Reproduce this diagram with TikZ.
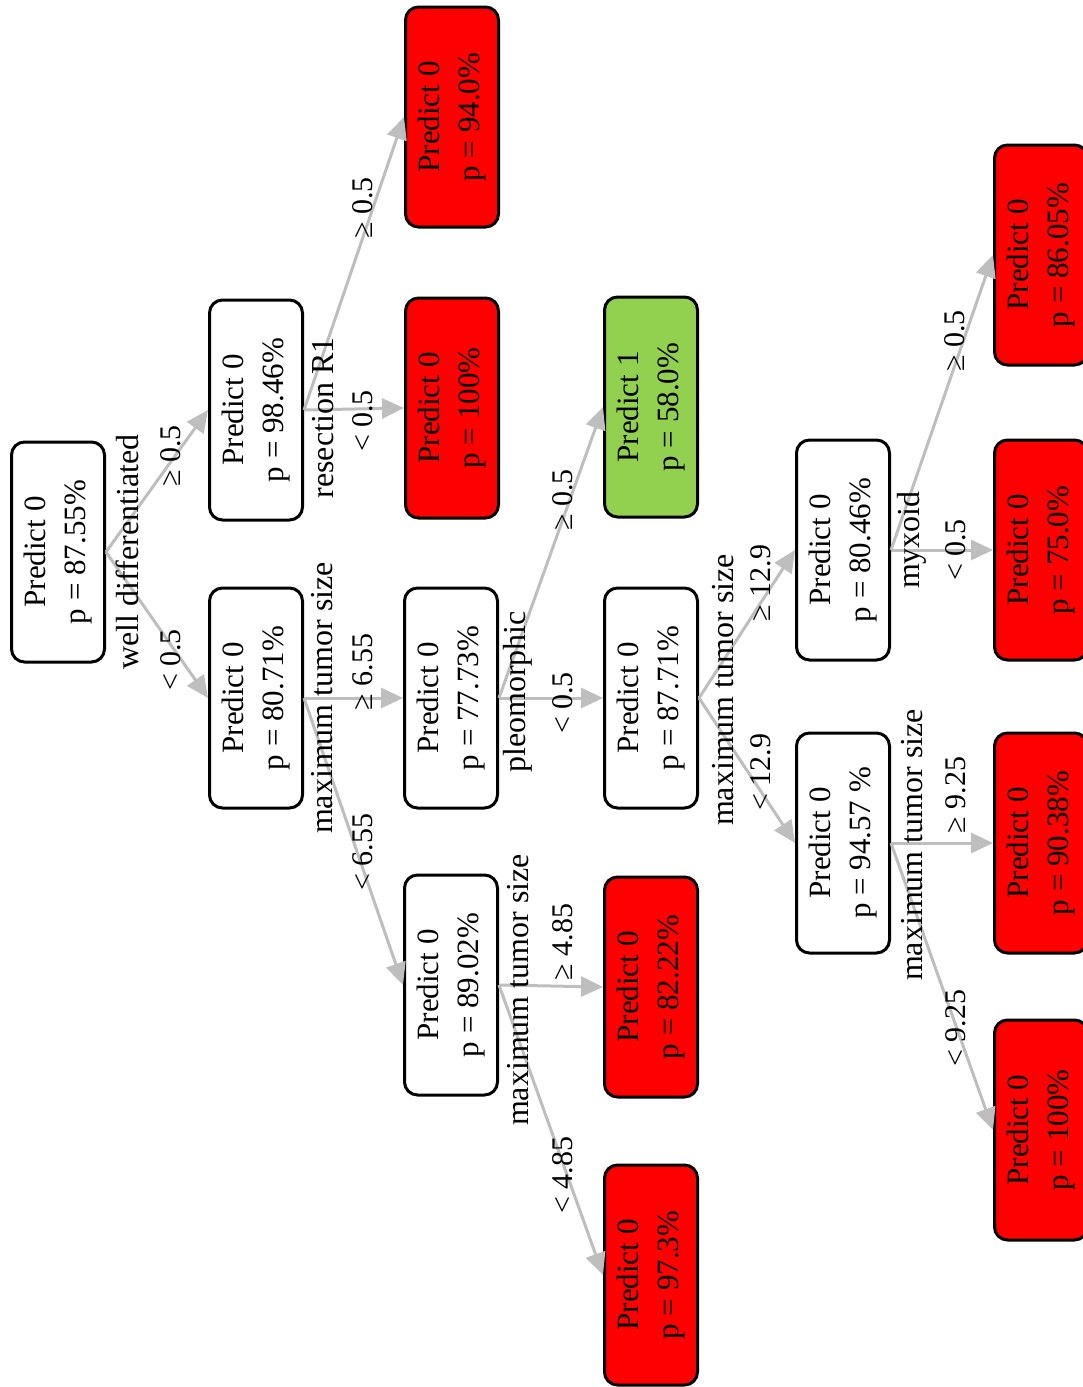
\documentclass[tikz,border=0pt]{standalone}
\usepackage{fontspec}
\setmainfont{Liberation Serif}
\usetikzlibrary{arrows.meta}
\definecolor{leafred}{HTML}{FF0000}
\definecolor{leafgreen}{HTML}{92D050}
\definecolor{edgegray}{HTML}{BEBEBE}
\begin{document}
\begin{tikzpicture}[x=1pt,y=1pt,
  box/.style={draw=black, line width=3pt, rounded corners=13pt, rotate=90,
    minimum width=220pt, minimum height=93pt, align=center, inner sep=0pt,
    font=\fontsize{31}{40}\selectfont},
  leaf/.style={box, fill=leafred},
  goodleaf/.style={box, fill=leafgreen},
  edge/.style={draw=edgegray, line width=3pt, -{Triangle[length=22pt,width=20pt]}},
  splitlbl/.style={rotate=90, inner sep=0pt, font=\fontsize{32}{36}\selectfont},
  edgelbl/.style={rotate=90, inner sep=0pt, font=\fontsize{30}{34}\selectfont}
]
\useasboundingbox (0,0) rectangle (1083,-1387);
\clip (0,0) rectangle (1083,-1387);

% nodes
\node[box] (root) at (58,-552) {Predict 0\\p = 87.55\%};
\node[box] (n1) at (256,-410) {Predict 0\\p = 98.46\%};
\node[box] (n2) at (256,-698) {Predict 0\\p = 80.71\%};
\node[leaf] (l94) at (452,-117) {Predict 0\\p = 94.0\%};
\node[leaf] (l100a) at (452,-408) {Predict 0\\p = 100\%};
\node[box] (n3) at (451,-698) {Predict 0\\p = 77.73\%};
\node[box] (n4) at (451,-985) {Predict 0\\p = 89.02\%};
\node[goodleaf] (g58) at (651,-407) {Predict 1\\p = 58.0\%};
\node[box] (n5) at (651,-698) {Predict 0\\p = 87.71\%};
\node[leaf] (l8222) at (651,-987) {Predict 0\\p = 82.22\%};
\node[leaf] (l973) at (651,-1275) {Predict 0\\p = 97.3\%};
\node[box] (n6) at (843,-550) {Predict 0\\p = 80.46\%};
\node[box] (n7) at (843,-843) {Predict 0\\p = 94.57 \%};
\node[leaf] (l8605) at (1041,-255) {Predict 0\\p = 86.05\%};
\node[leaf] (l75) at (1041,-550) {Predict 0\\p = 75.0\%};
\node[leaf] (l9038) at (1041,-843) {Predict 0\\p = 90.38\%};
\node[leaf] (l100b) at (1041,-1130) {Predict 0\\p = 100\%};

% edges
\draw[edge] (root.south) -- (n1.north);
\draw[edge] (root.south) -- (n2.north);
\draw[edge] (n1.south) -- (l94.north);
\draw[edge] (n1.south) -- (l100a.north);
\draw[edge] (n2.south) -- (n3.north);
\draw[edge] (n2.south) -- (n4.north);
\draw[edge] (n3.south) -- (g58.north);
\draw[edge] (n3.south) -- (n5.north);
\draw[edge] (n4.south) -- (l8222.north);
\draw[edge] (n4.south) -- (l973.north);
\draw[edge] (n5.south) -- (n6.north);
\draw[edge] (n5.south) -- (n7.north);
\draw[edge] (n6.south) -- (l8605.north);
\draw[edge] (n6.south) -- (l75.north);
\draw[edge] (n7.south) -- (l9038.north);
\draw[edge] (n7.south) -- (l100b.north);

% split labels
\node[splitlbl] (s0) at (127,-552) {well differentiated};
\node[splitlbl] (s1) at (323,-418) {resection R1};
\node[splitlbl] (s2) at (322,-698) {maximum tumor size};
\node[splitlbl] (s3) at (518,-692) {pleomorphic};
\node[splitlbl] (s4) at (518,-990) {maximum tumor size};
\node[splitlbl] (s5) at (723,-690) {maximum tumor size};
\node[splitlbl] (s6) at (912,-540) {myxoid};
\node[splitlbl] (s7) at (912,-845) {maximum tumor size};

% edge labels
\node[edgelbl] (e1) at (171,-456) {≥ 0.5};
\node[edgelbl] (e2) at (171,-660) {< 0.5};
\node[edgelbl] (e3) at (363,-208) {≥ 0.5};
\node[edgelbl] (e4) at (363,-421) {< 0.5};
\node[edgelbl] (e5) at (363,-672) {≥ 6.55};
\node[edgelbl] (e6) at (363,-852) {< 6.55};
\node[edgelbl] (e7) at (563,-500) {≥ 0.5};
\node[edgelbl] (e8) at (563,-703) {< 0.5};
\node[edgelbl] (e9) at (563,-942) {≥ 4.85};
\node[edgelbl] (e10) at (563,-1175) {< 4.85};
\node[edgelbl] (e11) at (761,-583) {≥ 12.9};
\node[edgelbl] (e12) at (761,-772) {< 12.9};
\node[edgelbl] (e13) at (955,-341) {≥ 0.5};
\node[edgelbl] (e14) at (956,-550) {< 0.5};
\node[edgelbl] (e15) at (956,-795) {≥ 9.25};
\node[edgelbl] (e16) at (956,-1028) {< 9.25};
\end{tikzpicture}
\end{document}
